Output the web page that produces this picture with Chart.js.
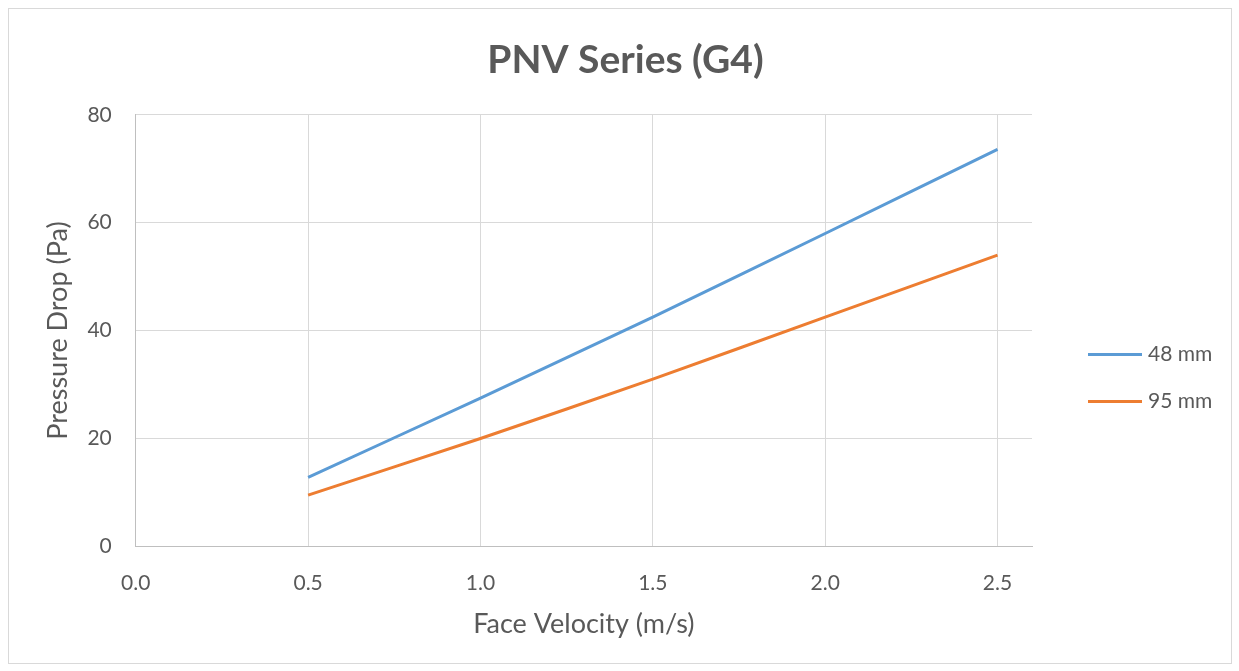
<!DOCTYPE html>
<html>
<head>
<meta charset="utf-8">
<script src="https://cdn.jsdelivr.net/npm/chart.js@4/dist/chart.umd.min.js"></script>
<style>
  body { margin: 0; background: #fff; }
  #frame { position: absolute; left: 8px; top: 8px; width: 1222px; height: 654px; border: 1px solid #d9d9d9; }
  canvas { display: block; }
</style>
</head>
<body>
<div id="frame"><canvas id="myChart1" width="1222" height="654"></canvas></div>
<script>
let xTicks = [0.0, 0.5, 1.0, 1.5, 2.0, 2.5];
let yTicks = [0, 20, 40, 60, 80];
let velocity = [0.5, 1.0, 1.5, 2.0, 2.5];
let drop48 = [12.8, 27.5, 42.5, 58.0, 73.6];
let drop95 = [9.5, 20.0, 31.0, 42.5, 54.0];
let seriesNames = ['48 mm', '95 mm'];

let grey = '#595959';
let font = 'Lato, "Open Sans", sans-serif';

let ctx = document.getElementById('myChart1').getContext('2d');

// legend drawn by hand so it can sit where Excel put it (right of the plot, below centre)
let sideLegend = {
    id: 'sideLegend',
    afterDraw(chart) {
        let c = chart.ctx;
        let area = chart.chartArea;
        let x0 = area.right + 56;
        let y0 = (area.top + area.bottom) / 2 + 24;
        c.save();
        c.font = '21px ' + font;
        c.textBaseline = 'middle';
        c.textAlign = 'left';
        chart.data.datasets.forEach((ds, i) => {
            let y = y0 + i * 47;
            c.strokeStyle = ds.borderColor;
            c.lineWidth = 3;
            c.beginPath();
            c.moveTo(x0, y);
            c.lineTo(x0 + 54, y);
            c.stroke();
            c.fillStyle = grey;
            c.fillText(ds.label, x0 + 60, y);
        });
        c.restore();
    }
};

let lineChart = new Chart(ctx, {
    type: 'line',
    data: {
        datasets: [{
            label: seriesNames[0],
            data: velocity.map((v, i) => ({x: v, y: drop48[i]})),
            borderColor: '#5b9bd5',
            backgroundColor: '#5b9bd5',
            borderWidth: 3,
            pointRadius: 0,
            tension: 0.2
        }, {
            label: seriesNames[1],
            data: velocity.map((v, i) => ({x: v, y: drop95[i]})),
            borderColor: '#ed7d31',
            backgroundColor: '#ed7d31',
            borderWidth: 3,
            pointRadius: 0,
            tension: 0.2
        }]
    },
    options: {
        responsive: false,
        animation: false,
        layout: { padding: { left: 33, right: 22, top: 0, bottom: 23 } },
        plugins: {
            title: {
                display: true,
                text: 'PNV Series (G4)',
                color: grey,
                font: { family: font, size: 39, weight: 'bold' },
                padding: { top: 28, bottom: 31 }
            },
            legend: { display: false },
            tooltip: { enabled: false }
        },
        scales: {
            x: {
                type: 'linear',
                min: 0,
                max: 2.6,
                afterBuildTicks: axis => { axis.ticks = xTicks.map(v => ({value: v})); },
                ticks: {
                    color: grey,
                    font: { family: font, size: 21 },
                    padding: 24,
                    callback: v => v.toFixed(1)
                },
                grid: { color: '#d9d9d9', drawTicks: false },
                border: { color: '#bfbfbf' },
                title: {
                    display: true,
                    text: 'Face Velocity (m/s)',
                    color: grey,
                    font: { family: font, size: 27 },
                    padding: { top: -12, bottom: 0 }
                }
            },
            y: {
                min: 0,
                max: 80,
                afterBuildTicks: axis => { axis.ticks = yTicks.map(v => ({value: v})); },
                ticks: {
                    color: grey,
                    font: { family: font, size: 21 },
                    padding: 24
                },
                grid: { color: '#d9d9d9', drawTicks: false },
                border: { color: '#bfbfbf' },
                title: {
                    display: true,
                    text: 'Pressure Drop (Pa)',
                    color: grey,
                    font: { family: font, size: 27 },
                    padding: { top: 0, bottom: -11 }
                }
            },
            // empty right-hand axis, only reserves room for the legend
            legendRoom: {
                type: 'linear',
                position: 'right',
                display: true,
                grid: { display: false },
                ticks: { display: false },
                border: { display: false },
                afterFit: s => { s.width = 177; }
            }
        }
    },
    plugins: [sideLegend]
});
</script>
</body>
</html>
